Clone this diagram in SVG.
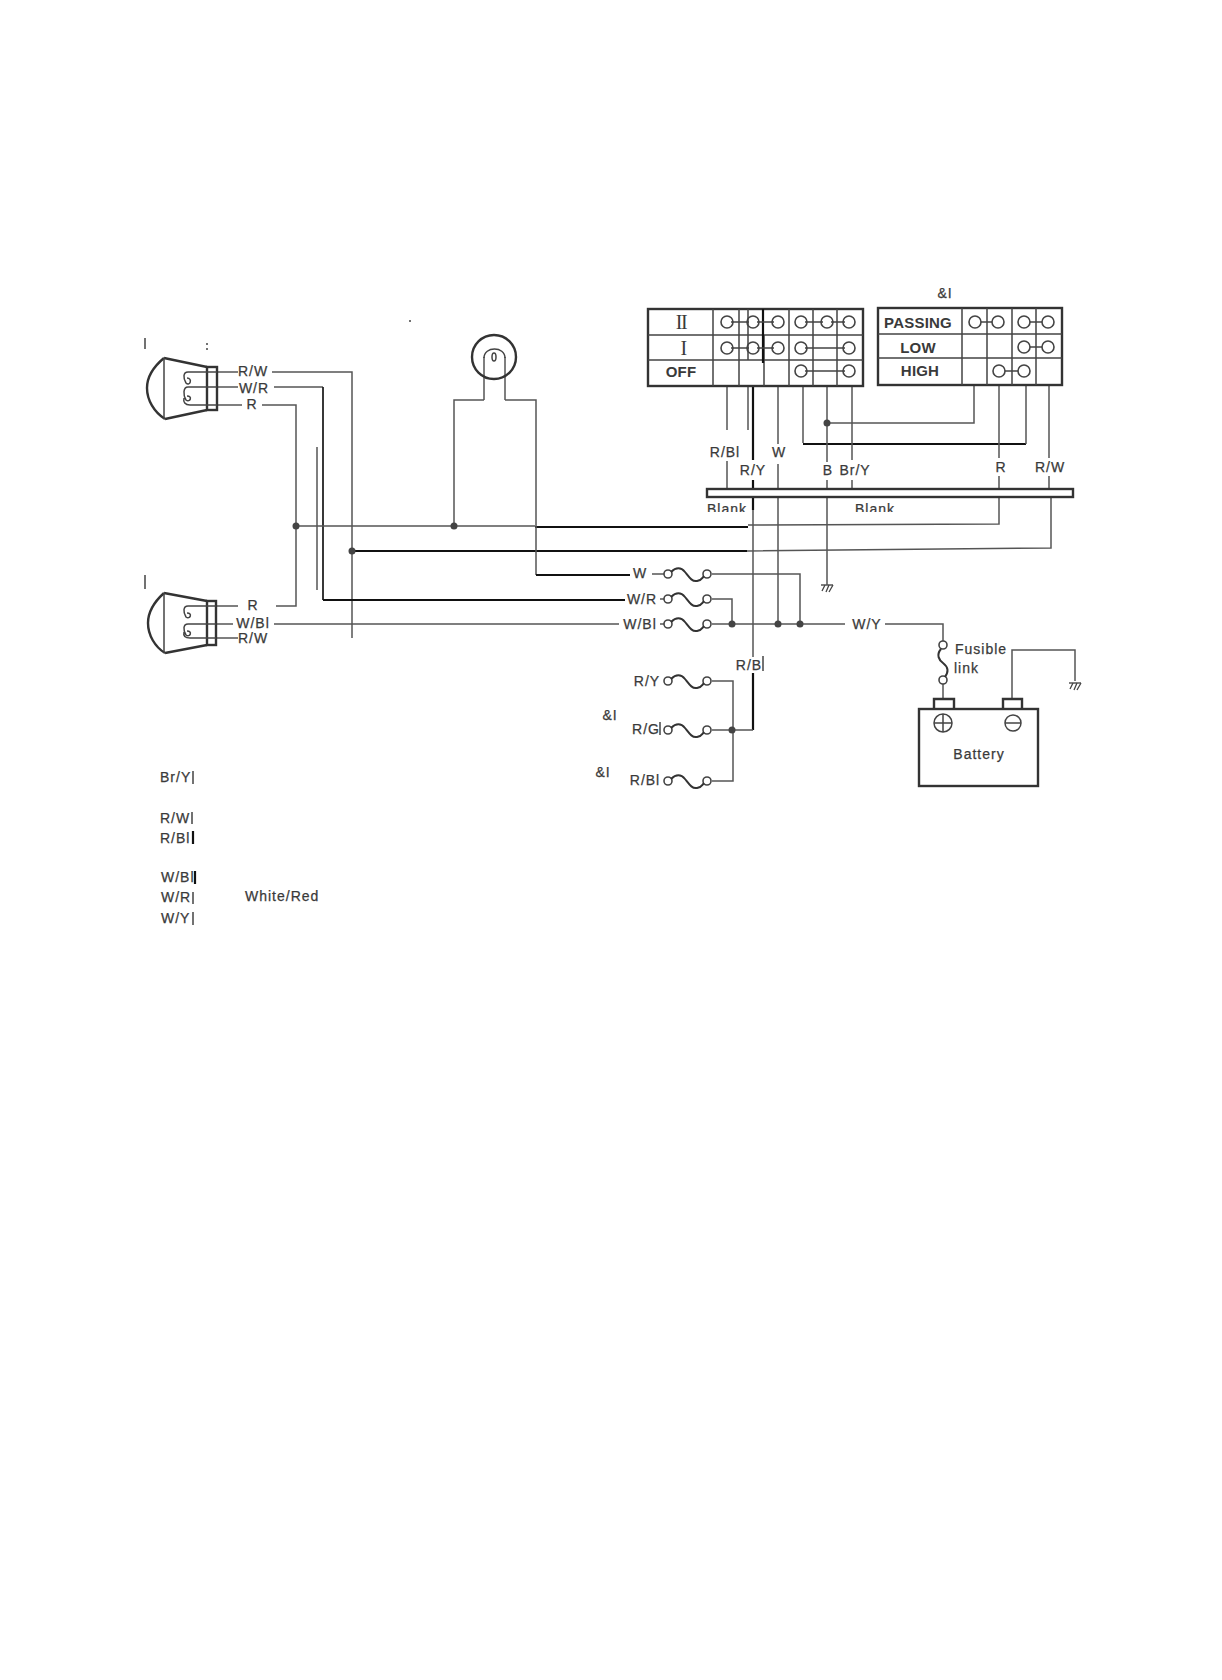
<svg xmlns="http://www.w3.org/2000/svg" xmlns:xlink="http://www.w3.org/1999/xlink" width="1222" height="1680" viewBox="0 0 1222 1680">
<style>
text{font-family:"Liberation Sans",Arial,sans-serif;font-size:14px;letter-spacing:1px;fill:#3a3a3a;stroke:#3a3a3a;stroke-width:.25;text-anchor:middle}
.st{text-anchor:start}
.sw{font-weight:bold;font-size:15px;letter-spacing:.2px;stroke-width:0}
.rm{font-family:"Liberation Serif",serif;font-size:20px;letter-spacing:-1.5px;stroke-width:0}
.w,.k,.b,.c,.g,.o,.m{fill:none}
.w{stroke:#555;stroke-width:1.5}
.m{stroke:#222;stroke-width:1.8}
.k{stroke:#111;stroke-width:2.2}
.b{stroke:#333;stroke-width:2.4}
.c{stroke:#444;stroke-width:1.5}
.o{stroke:#444;stroke-width:1.6}
.g{stroke:#444;stroke-width:1.3}
.d{fill:#444}
.f{stroke:#333;stroke-width:2;fill:none}
</style>
<defs>
<clipPath id="blankClip"><rect x="690" y="498" width="220" height="14"/></clipPath>
<g id="fuse"><circle class="o" cx="0" cy="0" r="4"/><circle class="o" cx="39" cy="0" r="4"/><path class="f" d="M3,-2C8,-7 13,-7 17,-2S24,8 29,7S34,4 36,2"/></g>
<g id="gnd"><path class="w" d="M-6,0H6"/><path class="g" d="M-2,0L-5,6M2,0L-1,7M6,0L2,7"/></g>
</defs>
<rect width="1222" height="1680" fill="#fff"/>

<g id="connectors">
<path class="w" d="M217,372H238M272,372H352V638M217,638H238M217,387H238M274,387H323"/>
<path class="m" d="M323,387V600"/>
<path class="k" d="M323,600H625"/>
<path class="w" d="M217,405H242M262,405H296V606H276M238,606H217"/>
<path class="w" d="M317,447V590"/>
<path class="w" d="M296,526H535"/>
<path class="k" d="M535,527H748"/>
<path class="w" d="M748,525L999,524V497"/>
<path class="k" d="M352,551H747"/>
<path class="w" d="M747,551L1051,548V497"/>
<path class="w" d="M217,624H233M274,624H619"/>
<path class="w" d="M484,400V357M505,400V357M484,400H454V526M505,400H536V575"/>
<path class="k" d="M536,575H630"/>
<path class="w" d="M652,574H664M712,574H800V624M712,599H732V624M660,599H664M660,624H664M712,624H845M885,624H943V641"/>
<path class="w" d="M727,386V430M727,461V490M748,386V430"/>
<path class="k" d="M753,386V460M753,480V510"/>
<path class="w" d="M753,510V657"/>
<path class="k" d="M753,673V730"/>
<path class="w" d="M753,730H712M712,681H733V781H712"/>
<path class="w" d="M778,386V444M778,464V490M778,497V624"/>
<path class="w" d="M803,386V443"/>
<path class="k" d="M803,444H1026"/>
<path class="w" d="M1026,444V386M827,386V462M827,480V490M827,497V585M827,423H974V385"/>
<path class="w" d="M852,386V460M852,480V490"/>
<path class="w" d="M999,385V458M999,476V490M1049,385V458M1049,476V490"/>
<path class="w" d="M943,684V699M1012,699V650H1075V681"/>
<circle class="d" cx="296" cy="526" r="3.5"/><circle class="d" cx="352" cy="551" r="3.5"/><circle class="d" cx="454" cy="526" r="3.5"/>
<circle class="d" cx="827" cy="423" r="3.5"/><circle class="d" cx="732" cy="624" r="3.5"/><circle class="d" cx="778" cy="624" r="3.5"/><circle class="d" cx="800" cy="624" r="3.5"/><circle class="d" cx="732" cy="730" r="3.5"/>
<use xlink:href="#gnd" href="#gnd" x="827" y="585"/>
<use xlink:href="#gnd" href="#gnd" x="1075" y="683"/>
<g id="wire-labels">
<text x="253" y="376">R/W</text><text x="254" y="393">W/R</text><text x="252" y="409">R</text>
<text x="253" y="610">R</text><text x="253" y="628">W/Bl</text><text x="253" y="643">R/W</text>
<text x="725" y="457">R/Bl</text><text x="753" y="475">R/Y</text><text x="779" y="457">W</text><text x="828" y="475">B</text><text x="855" y="475">Br/Y</text><text x="1001" y="472">R</text><text x="1050" y="472">R/W</text>
<text x="640" y="578">W</text><text x="642" y="604">W/R</text><text x="640" y="629">W/Bl</text><text x="867" y="629">W/Y</text>
<text x="749" y="670">R/B</text><path class="c" d="M763,656V671"/>
<text x="647" y="686">R/Y</text><text x="646" y="734">R/G</text><path class="c" d="M660,722V735"/><text x="645" y="785">R/Bl</text>
</g>
</g>

<g id="headlamp-upper">
<path class="b" d="M164,358L207,367M165,419L207,410M164,358C152,368 147,378 147,388C147,400 154,412 165,419"/>
<path class="c" d="M164,358V419"/>
<rect class="b" x="207" y="367" width="10" height="43"/>
<path class="c" d="M217,372H188C183,372 183,378 186,383C190,387 193,378 187,378M217,387H188C183,387 183,395 186,400C190,403 193,396 187,396M217,405H190C185,405 183,402 184,398"/>
</g>
<g id="headlamp-lower">
<path class="b" d="M164,593L207,601M165,653L207,645M164,593C153,603 148,613 148,623C148,635 155,647 165,653"/>
<path class="c" d="M164,593V653"/>
<rect class="b" x="207" y="601" width="9" height="44"/>
<path class="c" d="M216,606H188C183,606 183,612 186,617C190,620 193,613 187,613M216,624H188C183,624 183,630 186,635C190,638 193,631 187,631M216,638H190C185,638 183,636 184,632"/>
</g>
<g id="lamp">
<circle class="b" cx="494" cy="357" r="22" stroke-width="2"/>
<path class="c" d="M484,357V358C484,346 505,346 505,358"/>
<ellipse class="c" cx="494" cy="357" rx="2" ry="4"/>
</g>

<g id="switch-1">
<rect class="b" x="648" y="309" width="215" height="77"/>
<path class="c" d="M648,335H863M648,360H863M713,309V386M739,309V386M748,309V360M764,335V386M789,309V386M813,309V386M837,309V386"/>
<path class="k" d="M763,309V363"/>
<path class="c" d="M731,322H749M757,322H774M805,322H823M831,322H845M731,348H749M757,348H774M805,348H845M805,371H845"/>
<g class="o">
<circle cx="727" cy="322" r="6"/><circle cx="753" cy="322" r="6"/><circle cx="778" cy="322" r="6"/><circle cx="801" cy="322" r="6"/><circle cx="827" cy="322" r="6"/><circle cx="849" cy="322" r="6"/>
<circle cx="727" cy="348" r="6"/><circle cx="753" cy="348" r="6"/><circle cx="778" cy="348" r="6"/><circle cx="801" cy="348" r="6"/><circle cx="849" cy="348" r="6"/>
<circle cx="801" cy="371" r="6"/><circle cx="849" cy="371" r="6"/>
</g>
<text class="rm" x="681" y="329">II</text><text class="rm" x="683" y="355">I</text><text class="sw" x="681" y="377">OFF</text>
</g>
<g id="switch-2">
<rect class="b" x="878" y="308" width="184" height="77"/>
<path class="c" d="M878,334H1062M878,358H1062M962,308V385M987,308V385M1012,308V385M1036,308V385"/>
<path class="c" d="M981,322H992M1030,322H1042M1030,347H1042M1005,371H1018"/>
<g class="o">
<circle cx="975" cy="322" r="6"/><circle cx="998" cy="322" r="6"/><circle cx="1024" cy="322" r="6"/><circle cx="1048" cy="322" r="6"/>
<circle cx="1024" cy="347" r="6"/><circle cx="1048" cy="347" r="6"/>
<circle cx="999" cy="371" r="6"/><circle cx="1024" cy="371" r="6"/>
</g>
<text class="sw" x="918" y="328">PASSING</text><text class="sw" x="918" y="353">LOW</text><text class="sw" x="920" y="376">HIGH</text>
</g>
<g id="bar">
<rect class="b" x="707" y="489" width="366" height="8" style="fill:#fff"/>
<g clip-path="url(#blankClip)"><text x="727" y="514">Blank</text><text x="875" y="514">Blank</text></g>
</g>
<g id="fuses">
<use xlink:href="#fuse" href="#fuse" x="668" y="574"/>
<use xlink:href="#fuse" href="#fuse" x="668" y="599"/>
<use xlink:href="#fuse" href="#fuse" x="668" y="624"/>
<use xlink:href="#fuse" href="#fuse" x="668" y="681"/>
<use xlink:href="#fuse" href="#fuse" x="668" y="730"/>
<use xlink:href="#fuse" href="#fuse" x="668" y="781"/>
</g>
<g id="fusible-link">
<circle class="o" cx="943" cy="645" r="4"/><circle class="o" cx="943" cy="680" r="4"/>
<path class="f" d="M941,649C936,655 939,660 943,663S950,670 945,677"/>
<text class="st" x="955" y="654">Fusible</text><text class="st" x="954" y="673">link</text>
</g>
<g id="battery">
<path class="b" d="M934,709V699H954V709M1003,709V699H1022V709"/>
<rect class="b" x="919" y="709" width="119" height="77"/>
<circle class="c" cx="943" cy="723" r="9"/><path class="c" d="M934,723H952M943,714V732"/>
<circle class="c" cx="1013" cy="723" r="8"/><path class="c" d="M1005,723H1021"/>
<text x="979" y="759">Battery</text>
</g>
<g id="legend">
<text class="st" x="160" y="782">Br/Y</text><text class="st" x="160" y="823">R/W</text><text class="st" x="160" y="843">R/Bl</text><text class="st" x="161" y="882">W/Bl</text><text class="st" x="161" y="902">W/R</text><text class="st" x="161" y="923">W/Y</text>
<text class="st" x="245" y="901">White/Red</text>
<path class="c" d="M193,771V784M192,812V824M193,892V904M193,912V925"/>
<path class="k" d="M193,831V844M195,871V884"/>
</g>
<g id="stray-marks">
<text x="945" y="298">&amp;I</text><text x="610" y="720">&amp;I</text><text x="603" y="777">&amp;I</text>
<path class="c" d="M145,338V349M207,343V345M207,348V350M410,320V322M145,575V589"/>
</g>
</svg>
